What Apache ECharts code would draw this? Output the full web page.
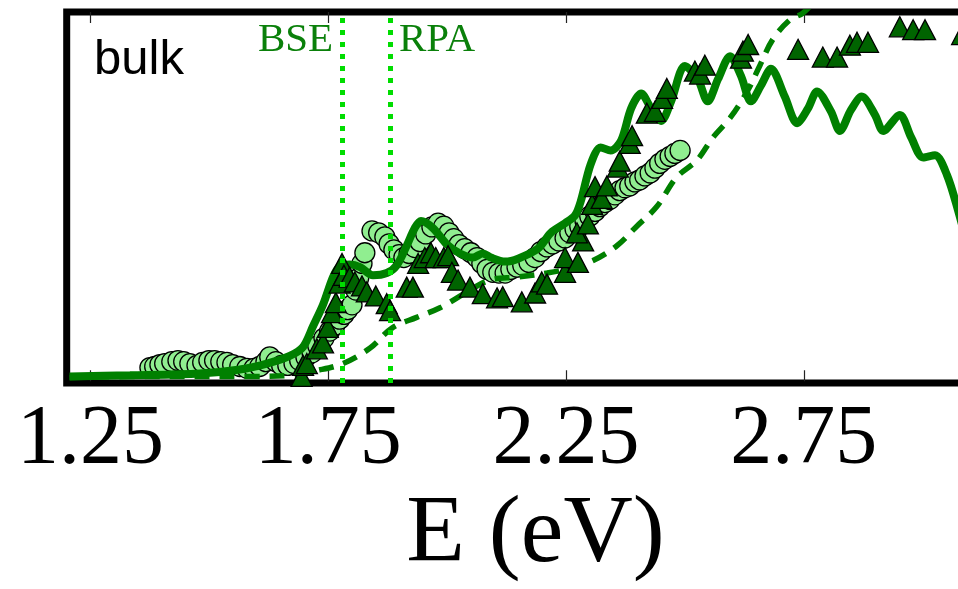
<!DOCTYPE html>
<html>
<head>
<meta charset="utf-8">
<script src="https://cdn.jsdelivr.net/npm/echarts@6/dist/echarts.min.js"></script>
<style>
html,body{margin:0;padding:0;overflow:hidden;background:#fff;width:958px;height:589px;}
#c{width:1000px;height:589px;}
</style>
</head>
<body>
<div id="c"></div>
<script>
// x ticks (eV)
const tickValues = [1.25, 1.75, 2.25, 2.75];
// vertical marker energies
const markerE = [1.777, 1.882];
const markerNames = ['BSE', 'RPA'];

// solid theory curve
const solidE = [1.206,1.333,1.480,1.564,1.621,1.669,1.697,1.718,1.739,1.760,1.774,1.795,1.817,1.844,1.873,1.894,1.915,1.932,1.945,1.970,2.000,2.027,2.054,2.075,2.092,2.122,2.149,2.191,2.218,2.248,2.269,2.281,2.302,2.323,2.344,2.366,2.387,2.408,2.429,2.450,2.471,2.500,2.527,2.548,2.570,2.595,2.618,2.639,2.660,2.681,2.710,2.736,2.759,2.778,2.807,2.826,2.849,2.872,2.900,2.917,2.952,2.976,3.001,3.026,3.051,3.074,3.100];
const solidI = [1.3,1.6,2.1,3.2,4.8,6.9,9.3,14.9,20.7,28.2,31.1,31.6,30.9,28.7,29.3,31.4,36.7,41.5,43.4,41.5,37.0,34.6,33.5,34.6,33.5,32.4,33.2,35.9,40.2,42.8,44.9,48.7,58.8,63.3,62.5,65.2,73.9,77.9,73.9,70.5,75.8,85.4,81.9,75.8,81.9,88.0,82.7,75.8,80.1,84.6,77.1,69.9,73.9,78.5,73.1,67.8,73.4,77.1,72.1,67.8,72.1,66.0,60.6,61.2,55.9,46.5,34.0];

// dashed theory curve
const dashE = [1.206,1.375,1.585,1.669,1.726,1.781,1.838,1.884,1.936,1.985,2.042,2.090,2.147,2.210,2.258,2.307,2.357,2.399,2.441,2.483,2.525,2.559,2.595,2.631,2.658,2.685,2.721,2.748,2.784];
const dashI = [1.0,1.3,1.3,1.6,2.9,4.8,9.0,14.4,17.3,19.9,24.2,27.4,28.2,29.3,30.6,32.7,36.7,42.0,47.3,55.3,59.8,66.0,71.3,78.5,85.6,92.6,97.9,99.7,104.5];

// experiment 1 (light circles)
const circE = [1.375,1.385,1.396,1.406,1.421,1.434,1.446,1.459,1.474,1.486,1.499,1.511,1.524,1.537,1.549,1.564,1.579,1.594,1.606,1.619,1.627,1.640,1.652,1.665,1.678,1.690,1.703,1.716,1.728,1.741,1.753,1.764,1.774,1.783,1.791,1.800,1.808,1.814,1.821,1.827,1.842,1.856,1.869,1.878,1.888,1.899,1.909,1.920,1.932,1.943,1.955,1.968,1.981,1.993,2.004,2.014,2.025,2.037,2.050,2.063,2.073,2.084,2.096,2.109,2.122,2.134,2.147,2.159,2.172,2.185,2.197,2.210,2.222,2.235,2.248,2.258,2.269,2.279,2.290,2.300,2.311,2.321,2.332,2.342,2.353,2.363,2.374,2.384,2.395,2.405,2.416,2.427,2.437,2.447,2.458,2.469,2.479,2.490];
const circI = [3.7,4.0,4.5,4.8,5.3,5.6,5.3,4.8,4.3,5.1,5.6,5.6,5.3,5.1,4.5,4.0,3.5,3.5,4.0,5.3,6.6,5.3,4.3,4.3,4.8,5.6,6.6,7.7,9.6,11.7,13.6,15.2,16.8,18.1,19.4,20.7,24.7,27.9,31.9,34.8,40.7,40.2,39.1,37.2,35.6,34.3,33.5,34.6,36.2,37.8,39.9,41.8,42.8,42.0,40.2,38.6,37.0,35.9,34.8,33.5,31.9,30.3,29.5,29.3,29.3,30.3,30.9,31.4,32.2,33.5,35.1,36.4,37.2,38.0,38.8,40.2,41.2,42.0,43.4,44.7,46.0,47.3,48.4,49.2,50.5,51.6,52.4,52.9,54.0,54.5,55.6,56.4,57.7,59.0,60.1,60.9,61.7,62.5];

// experiment 2 (dark triangles)
const triE = [1.694,1.697,1.705,1.726,1.739,1.749,1.758,1.766,1.774,1.779,1.783,1.795,1.806,1.821,1.831,1.850,1.873,1.880,1.915,1.928,1.939,1.953,1.966,1.976,1.993,2.002,2.010,2.023,2.048,2.075,2.105,2.117,2.157,2.185,2.199,2.210,2.248,2.248,2.275,2.286,2.273,2.296,2.305,2.311,2.325,2.336,2.359,2.363,2.384,2.389,2.420,2.437,2.452,2.462,2.521,2.532,2.542,2.618,2.622,2.633,2.738,2.790,2.820,2.847,2.862,2.885,2.952,2.980,3.005,3.083];
const triI = [1.3,4.3,4.8,8.8,10.4,14.6,18.6,21.3,26.6,31.9,28.7,28.2,26.9,25.8,24.2,23.1,21.0,19.1,25.5,25.5,31.9,33.5,34.8,33.5,33.5,34.0,29.5,27.4,25.5,23.7,22.6,22.9,21.5,23.9,26.9,26.3,29.5,33.5,32.2,38.0,40.2,42.6,47.9,52.7,49.5,52.9,58.0,59.6,64.4,66.5,72.6,73.1,76.6,79.3,84.0,83.2,85.6,87.5,89.4,91.2,89.9,87.8,87.8,91.0,91.8,91.8,96.0,95.2,95.2,93.9];

const zip = (a, b) => a.map((v, i) => [v, b[i]]);
const serif = '"Liberation Serif", "DejaVu Serif", serif';

const chart = echarts.init(document.getElementById('c'), null, {renderer: 'canvas'});
chart.setOption({
  animation: false,
  backgroundColor: '#fff',
  grid: {
    left: 66.7, top: 12, width: 903.5, height: 378,
    show: true, borderColor: '#000', borderWidth: 7, backgroundColor: 'transparent'
  },
  xAxis: [{
    type: 'value', min: 1.2, max: 3.1, position: 'bottom',
    axisLine: {show: false},
    splitLine: {show: false},
    axisTick: {show: true, inside: true, length: 11, customValues: tickValues, lineStyle: {color: '#222', width: 1.2}},
    axisLabel: {show: true, customValues: tickValues, formatter: v => v.toFixed(2), margin: 16,
      fontFamily: serif, fontSize: 84, color: '#000'},
    name: 'E (eV)', nameLocation: 'middle', nameGap: 104,
    nameTextStyle: {fontFamily: serif, fontSize: 96, color: '#000', padding: [0, 0, 0, 34]}
  }, {
    type: 'value', min: 1.2, max: 3.1, position: 'top',
    axisLine: {show: false},
    splitLine: {show: false},
    axisTick: {show: true, inside: true, length: 11, customValues: tickValues, lineStyle: {color: '#222', width: 1.2}},
    axisLabel: {show: false}
  }],
  yAxis: {
    type: 'value', min: -0.5, max: 100,
    axisLine: {show: false}, axisTick: {show: false}, axisLabel: {show: false}, splitLine: {show: false}
  },
  series: [
    {
      name: 'exp1', type: 'scatter', z: 2, data: zip(circE, circI),
      symbol: 'circle', symbolSize: 20,
      itemStyle: {color: '#90ee90', borderColor: '#000', borderWidth: 1.3, opacity: 1}
    },
    {
      name: 'solid', type: 'line', z: 3, data: zip(solidE, solidI),
      showSymbol: false, smooth: 0.3, clip: true,
      lineStyle: {color: '#008000', width: 8}
    },
    {
      name: 'dashed', type: 'line', z: 3, data: zip(dashE, dashI),
      showSymbol: false, smooth: 0.35, clip: true,
      lineStyle: {color: '#008000', width: 5.5, type: [15, 10]}
    },
    {
      name: 'exp2', type: 'scatter', z: 4, data: zip(triE, triI),
      symbol: 'triangle', symbolSize: [21, 20],
      itemStyle: {color: '#006400', borderColor: '#000', borderWidth: 1.3, opacity: 1}
    },
    {
      name: 'markers', type: 'line', z: 6, data: [],
      markLine: {
        silent: true, symbol: ['none', 'none'], animation: false,
        lineStyle: {color: '#00dd00', width: 5, type: [5, 7]},
        label: {show: false},
        data: markerE.map((e, i) => ({xAxis: e, name: markerNames[i]}))
      }
    }
  ]
});

// BSE / RPA labels placed via axis scale
const yTop = chart.convertToPixel({xAxisIndex: 0, yAxisIndex: 0}, [markerE[0], 100])[1];
const xB = chart.convertToPixel({xAxisIndex: 0, yAxisIndex: 0}, [markerE[0], 0])[0];
const xR = chart.convertToPixel({xAxisIndex: 0, yAxisIndex: 0}, [markerE[1], 0])[0];
chart.setOption({
  graphic: [
    {type: 'text', left: 94, top: 36, style: {text: 'bulk', font: '49px "Liberation Sans", Arial, sans-serif', fill: '#000'}},
    {type: 'text', x: xB - 8, y: yTop + 8, style: {text: markerNames[0], font: '41px ' + serif, fill: '#0a800a', align: 'right', verticalAlign: 'top'}},
    {type: 'text', x: xR + 8, y: yTop + 8, style: {text: markerNames[1], font: '41px ' + serif, fill: '#0a800a', align: 'left', verticalAlign: 'top'}}
  ]
});
</script>
</body>
</html>
